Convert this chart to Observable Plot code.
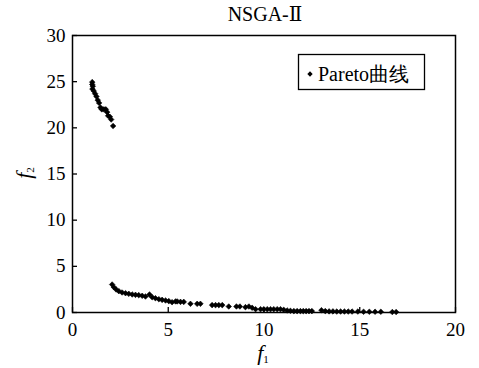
<!DOCTYPE html>
<html><head><meta charset="utf-8">
<script src="https://cdn.jsdelivr.net/npm/d3@7"></script>
<script src="https://cdn.jsdelivr.net/npm/@observablehq/plot@0.6"></script>
<style>body{margin:0;background:#fff} svg text{font-family:"Liberation Serif","DejaVu Serif",serif !important;}</style>
</head><body><div id="chart"></div>
<script>
const title = "NSGA-Ⅱ";
const legendLabel = "Pareto曲线";
const xLabel = ["f", "1"];
const yLabel = ["f", "2"];
const xTicks = [0, 5, 10, 15, 20];
const yTicks = [0, 5, 10, 15, 20, 25, 30];
const f1 = [
  1.03, 1.03, 1.06, 1.04, 1.11, 1.18, 1.25, 1.32, 1.39, 1.46, 1.53, 1.64, 1.74, 1.81, 1.86, 1.95, 2.02, 2.12,
  2.07, 2.16, 2.28, 2.42, 2.59, 2.77, 2.94, 3.12, 3.29, 3.46,
  3.64, 3.81, 4.02, 4.16, 4.33, 4.51, 4.68, 4.86, 5.03, 5.20,
  5.38, 5.47, 5.64, 5.81, 6.16, 6.51, 6.68, 7.29, 7.47, 7.64,
  7.82, 8.16, 8.56, 8.74, 9.03, 9.21, 9.38, 9.56, 9.82, 9.99,
  10.17, 10.34, 10.51, 10.69, 10.86, 11.03, 11.21, 11.38, 11.56, 11.73,
  11.90, 12.05, 12.20, 12.35, 12.50, 13.00, 13.20, 13.40, 13.60, 13.80,
  14.00, 14.20, 14.40, 14.60, 14.90, 15.20, 15.50, 15.80, 16.10, 16.70,
  16.90
];
const f2 = [
  24.95, 24.7, 24.5, 24.2, 24.0, 23.7, 23.4, 23.0, 22.7, 22.2, 22.0, 22.0, 22.0, 21.7, 21.3, 21.2, 20.9, 20.2,
  3.03, 2.74, 2.49, 2.31, 2.17, 2.09, 2.02, 1.95, 1.91, 1.88,
  1.81, 1.73, 1.95, 1.66, 1.55, 1.44, 1.37, 1.30, 1.23, 1.12,
  1.20, 1.20, 1.15, 1.15, 0.94, 0.94, 0.94, 0.80, 0.80, 0.80,
  0.80, 0.65, 0.65, 0.65, 0.58, 0.65, 0.51, 0.36, 0.36, 0.36,
  0.36, 0.36, 0.36, 0.36, 0.36, 0.29, 0.22, 0.18, 0.15, 0.15,
  0.15, 0.15, 0.15, 0.15, 0.15, 0.25, 0.15, 0.12, 0.12, 0.10,
  0.10, 0.10, 0.10, 0.10, 0.10, 0.08, 0.08, 0.08, 0.08, 0.05,
  0.05
];
const data = f1.map((x, i) => ({f1: x, f2: f2[i]}));
const serif = "Liberation Serif";
const W = 479, H = 368, mL = 72, mR = 24, mT = 35, mB = 56;
const tick = 5;

const plot = Plot.plot({
  width: W, height: H,
  marginLeft: mL, marginRight: mR, marginTop: mT, marginBottom: mB,
  style: {fontFamily: serif, fontSize: "18px", background: "white", color: "black", overflow: "visible"},
  x: {domain: [0, 20]},
  y: {domain: [0, 30]},
  marks: [
    Plot.axisX(xTicks, {tickSize: 0, tickPadding: 10, label: null, fontSize: 19}),
    Plot.axisY(yTicks, {tickSize: 0, tickPadding: 7, label: null, fontSize: 19}),
    Plot.tickX(xTicks, {x: d => d, stroke: "black", strokeWidth: 1.3, insetTop: H - mT - mB - tick}),
    Plot.tickY(yTicks, {y: d => d, stroke: "black", strokeWidth: 1.3, insetRight: W - mL - mR - tick}),
    Plot.dot(data, {x: "f1", y: "f2", symbol: "diamond2", r: 2.5, fill: "black", stroke: "black", strokeWidth: 0.6}),
    Plot.frame({stroke: "black", strokeWidth: 1.5})
  ]
});
document.getElementById("chart").appendChild(plot);

const svg = d3.select(plot);
// title
svg.append("text").attr("x", 265).attr("y", 21).attr("text-anchor", "middle")
  .style("font-size", "20px").attr("fill", "black").text(title);
// x label
const xl = svg.append("text").attr("x", 263).attr("y", 360).attr("text-anchor", "middle").attr("fill", "black");
xl.append("tspan").style("font-style", "italic").style("font-size", "22px").text(xLabel[0]);
xl.append("tspan").style("font-size", "11px").attr("dy", 3).text(xLabel[1]);
// y label
const yl = svg.append("text").attr("transform", "translate(31,173) rotate(-90)").attr("text-anchor", "middle").attr("fill", "black");
yl.append("tspan").style("font-style", "italic").style("font-size", "22px").text(yLabel[0]);
yl.append("tspan").style("font-size", "11px").attr("dy", 3).text(yLabel[1]);
// legend
const lg = svg.append("g");
lg.append("rect").attr("x", 298.5).attr("y", 54.5).attr("width", 126).attr("height", 35)
  .attr("fill", "white").attr("stroke", "black").attr("stroke-width", 1.3);
lg.append("path").attr("transform", "translate(310,74)")
  .attr("d", d3.symbol(d3.symbolDiamond2, 18)()).attr("fill", "black");
lg.append("text").attr("x", 318).attr("y", 81).attr("text-anchor", "start")
  .style("font-size", "20px").attr("fill", "black").text(legendLabel);
</script>
</body></html>
